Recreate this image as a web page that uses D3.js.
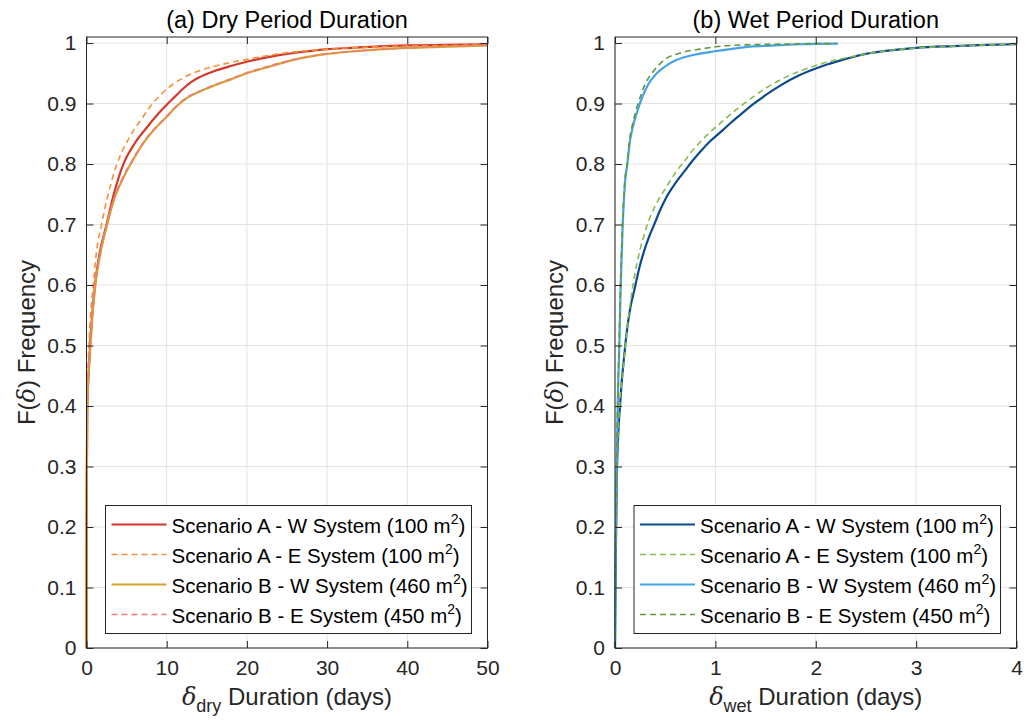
<!DOCTYPE html>
<html>
<head>
<meta charset="utf-8">
<script src="https://cdn.jsdelivr.net/npm/d3@7"></script>
<style>
  body { margin: 0; background: #fff; }
  svg { font-family: "Liberation Sans", Arial, Helvetica, sans-serif; }
  .tick-label { font-size: 21px; fill: #262626; }
  .title { font-size: 23.5px; fill: #000; }
  .axis-label { font-size: 24px; fill: #262626; }
  .legend-text { font-size: 20.5px; fill: #000; }
</style>
</head>
<body>
<div id="chart"></div>
<script>
// cumulative frequency of dry / wet period durations

const dryTicks = [0, 10, 20, 30, 40, 50];
const wetTicks = [0, 1, 2, 3, 4];
const yTicks = [0, 0.1, 0.2, 0.3, 0.4, 0.5, 0.6, 0.7, 0.8, 0.9, 1];

const legendNames = [
    "Scenario A - W System (100 m",
    "Scenario A - E System (100 m",
    "Scenario B - W System (460 m",
    "Scenario B - E System (450 m"
];

// (a) dry period, [days, F]
const dryAW = [[0,0],[0.02,0.2],[0.05,0.3],[0.1,0.4],[0.25,0.45],[0.44,0.5],[0.7,0.55],[1.06,0.6],[1.6,0.65],[2.5,0.7],[3.4,0.75],[4.6,0.8],[6,0.834],[7.5,0.86],[9,0.884],[10,0.898],[11,0.911],[12,0.924],[13,0.935],[14,0.943],[15.8,0.953],[18,0.962],[20,0.969],[22,0.975],[24,0.98],[26,0.984],[28,0.987],[30,0.99],[33,0.992],[36,0.994],[40,0.996],[45,0.997],[50,0.998]];
const dryAE = [[0,0],[0.02,0.25],[0.05,0.35],[0.1,0.42],[0.3,0.5],[0.5,0.55],[0.85,0.6],[1.2,0.65],[1.9,0.702],[2.7,0.75],[3.8,0.8],[5.4,0.845],[7,0.877],[8,0.896],[9.2,0.914],[10.5,0.929],[12,0.942],[13,0.949],[14,0.954],[15.8,0.961],[18,0.968],[20,0.973],[22,0.978],[25,0.984],[28,0.988],[30,0.99],[35,0.993],[40,0.995],[45,0.996],[50,0.997]];
const dryBW = [[0,0],[0.02,0.2],[0.05,0.3],[0.1,0.4],[0.25,0.45],[0.5,0.5],[0.75,0.55],[1.1,0.6],[1.7,0.65],[2.5,0.696],[3.4,0.74],[4.5,0.775],[5.8,0.807],[7,0.833],[8.5,0.858],[10,0.878],[11.2,0.895],[12.5,0.909],[14,0.919],[15.8,0.929],[18,0.94],[20,0.95],[22,0.958],[24.1,0.966],[26,0.973],[28,0.978],[30,0.982],[33,0.986],[36,0.989],[40,0.992],[45,0.994],[50,0.996]];
const dryBE = [[0,0],[0.02,0.22],[0.05,0.32],[0.1,0.41],[0.25,0.46],[0.48,0.5],[0.72,0.55],[1.05,0.6],[1.65,0.65],[2.45,0.698],[3.4,0.742],[4.5,0.777],[5.8,0.808],[7,0.834],[8.5,0.859],[10,0.879],[11.2,0.896],[12.5,0.91],[14,0.92],[15.8,0.93],[18,0.941],[20,0.951],[22,0.959],[24.1,0.967],[26,0.973],[28,0.978],[30,0.982],[33,0.986],[36,0.989],[40,0.992],[45,0.995],[50,0.996]];

// (b) wet period, [days, F]
const wetAW = [[0,0],[0.005,0.1],[0.01,0.18],[0.017,0.27],[0.033,0.355],[0.05,0.4],[0.066,0.438],[0.09,0.48],[0.116,0.521],[0.15,0.56],[0.2,0.597],[0.24,0.627],[0.282,0.652],[0.34,0.68],[0.398,0.703],[0.45,0.724],[0.515,0.746],[0.6,0.768],[0.7,0.79],[0.77,0.805],[0.847,0.82],[0.95,0.838],[1.08,0.857],[1.16,0.869],[1.245,0.881],[1.33,0.893],[1.41,0.903],[1.51,0.915],[1.65,0.93],[1.84,0.947],[2,0.958],[2.12,0.965],[2.24,0.971],[2.37,0.977],[2.5,0.982],[2.7,0.987],[3,0.992],[3.37,0.995],[3.7,0.997],[4,0.998]];
const wetAE = [[0,0],[0.005,0.12],[0.01,0.2],[0.02,0.3],[0.035,0.37],[0.05,0.41],[0.075,0.45],[0.1,0.493],[0.13,0.54],[0.166,0.586],[0.2,0.62],[0.249,0.658],[0.3,0.688],[0.349,0.712],[0.43,0.74],[0.515,0.763],[0.6,0.785],[0.697,0.806],[0.76,0.82],[0.847,0.836],[0.95,0.853],[1.08,0.872],[1.2,0.889],[1.31,0.903],[1.5,0.925],[1.68,0.942],[1.85,0.954],[2,0.963],[2.15,0.97],[2.34,0.977],[2.5,0.982],[2.7,0.987],[3,0.992],[3.4,0.995],[3.7,0.997],[4,0.998]];
const wetBW = [[0,0],[0.005,0.15],[0.01,0.2],[0.017,0.3],[0.027,0.4],[0.043,0.5],[0.057,0.6],[0.077,0.7],[0.1,0.77],[0.123,0.8],[0.149,0.838],[0.18,0.863],[0.216,0.884],[0.27,0.91],[0.332,0.932],[0.4,0.947],[0.515,0.963],[0.6,0.971],[0.68,0.976],[0.8,0.981],[0.98,0.986],[1.15,0.99],[1.345,0.994],[1.6,0.996],[1.84,0.998],[2.22,0.999]];
const wetBE = [[0,0],[0.005,0.16],[0.01,0.22],[0.017,0.31],[0.027,0.41],[0.042,0.51],[0.056,0.61],[0.075,0.7],[0.097,0.77],[0.12,0.8],[0.145,0.84],[0.178,0.868],[0.21,0.889],[0.26,0.915],[0.3,0.932],[0.38,0.953],[0.45,0.966],[0.515,0.975],[0.6,0.981],[0.68,0.985],[0.85,0.99],[1.01,0.994],[1.3,0.997],[1.6,0.998],[2,0.999],[2.2,0.999]];

const width = 1028, height = 720;
const plotTop = 37, plotBottom = 648;
const tickLen = 7;

const panels = [
    {
        left: 86.5, right: 487.5, xMax: 50, xTicks: dryTicks,
        title: "(a) Dry Period Duration", sub: "dry",
        series: [
            { data: dryAW, color: "#d0392b", dash: null, w: 2.2 },
            { data: dryAE, color: "#f39237", dash: "6,4", w: 1.6 },
            { data: dryBW, color: "#d6a02e", dash: null, w: 2.2 },
            { data: dryBE, color: "#ef7b7b", dash: "6,4", w: 1.6 }
        ],
        legend: { x: 105.5, y: 505.5, w: 366, h: 128 }
    },
    {
        left: 615, right: 1016.5, xMax: 4, xTicks: wetTicks,
        title: "(b) Wet Period Duration", sub: "wet",
        series: [
            { data: wetAW, color: "#0b4a8f", dash: null, w: 2.2 },
            { data: wetAE, color: "#86bc4d", dash: "6,4", w: 1.6 },
            { data: wetBW, color: "#44a3e4", dash: null, w: 2.2 },
            { data: wetBE, color: "#64993a", dash: "6,4", w: 1.6 }
        ],
        legend: { x: 634, y: 505.5, w: 366.5, h: 128 }
    }
];

const svg = d3.select("#chart").append("svg")
    .attr("width", width)
    .attr("height", height);

panels.forEach(p => {
    const x = d3.scaleLinear().domain([0, p.xMax]).range([p.left, p.right]);
    const y = d3.scaleLinear().domain([0, 1.01]).range([plotBottom, plotTop]);
    const g = svg.append("g");

    // grid
    g.selectAll(".gx").data(p.xTicks).enter().append("line")
        .attr("x1", d => x(d)).attr("x2", d => x(d))
        .attr("y1", plotTop).attr("y2", plotBottom)
        .attr("stroke", "#e3e3e3").attr("stroke-width", 1);
    g.selectAll(".gy").data(yTicks).enter().append("line")
        .attr("x1", p.left).attr("x2", p.right)
        .attr("y1", d => y(d)).attr("y2", d => y(d))
        .attr("stroke", "#e3e3e3").attr("stroke-width", 1);

    // curves
    const line = d3.line().x(d => x(d[0])).y(d => y(d[1])).curve(d3.curveMonotoneX);
    p.series.forEach(s => {
        g.append("path")
            .attr("d", line(s.data))
            .attr("fill", "none")
            .attr("stroke", s.color)
            .attr("stroke-width", s.w)
            .attr("stroke-dasharray", s.dash);
    });

    // box + ticks on all four sides
    g.append("rect")
        .attr("x", p.left).attr("y", plotTop)
        .attr("width", p.right - p.left).attr("height", plotBottom - plotTop)
        .attr("fill", "none").attr("stroke", "#262626").attr("stroke-width", 1);

    const xAxisB = d3.axisBottom(x).tickValues(p.xTicks).tickSize(-tickLen).tickFormat(d3.format("d")).tickPadding(12);
    const gxb = g.append("g").attr("transform", `translate(0,${plotBottom})`).call(xAxisB);
    const xAxisT = d3.axisTop(x).tickValues(p.xTicks).tickSize(-tickLen).tickFormat("");
    const gxt = g.append("g").attr("transform", `translate(0,${plotTop})`).call(xAxisT);
    const yAxisL = d3.axisLeft(y).tickValues(yTicks).tickSize(-tickLen).tickFormat(d => d3.format("~g")(d)).tickPadding(10);
    const gyl = g.append("g").attr("transform", `translate(${p.left},0)`).call(yAxisL);
    const yAxisR = d3.axisRight(y).tickValues(yTicks).tickSize(-tickLen).tickFormat("");
    const gyr = g.append("g").attr("transform", `translate(${p.right},0)`).call(yAxisR);

    [gxb, gxt, gyl, gyr].forEach(a => {
        a.select(".domain").remove();
        a.selectAll(".tick line").attr("stroke", "#262626");
        a.selectAll(".tick text").attr("class", "tick-label").attr("font-family", null).attr("font-size", null).attr("fill", null);
    });

    // title
    svg.append("text")
        .attr("class", "title")
        .attr("x", (p.left + p.right) / 2)
        .attr("y", 28)
        .attr("text-anchor", "middle")
        .text(p.title);

    // x label
    const xl = svg.append("text")
        .attr("class", "axis-label")
        .attr("x", (p.left + p.right) / 2)
        .attr("y", 705)
        .attr("text-anchor", "middle");
    xl.append("tspan").attr("font-style", "italic").attr("font-family", "'DejaVu Serif', serif").text("δ");
    xl.append("tspan").attr("font-size", "18px").attr("dy", 7).text(p.sub);
    xl.append("tspan").attr("dy", -7).text(" Duration (days)");

    // y label
    const yl = svg.append("text")
        .attr("class", "axis-label")
        .attr("transform", `translate(${p.left - 52},${(plotTop + plotBottom) / 2}) rotate(-90)`)
        .attr("text-anchor", "middle");
    yl.append("tspan").text("F(");
    yl.append("tspan").attr("font-style", "italic").attr("font-family", "'DejaVu Serif', serif").text("δ");
    yl.append("tspan").text(") Frequency");

    // legend
    const lg = svg.append("g");
    lg.append("rect")
        .attr("x", p.legend.x).attr("y", p.legend.y)
        .attr("width", p.legend.w).attr("height", p.legend.h)
        .attr("fill", "#fff").attr("stroke", "#262626").attr("stroke-width", 1);
    p.series.forEach((s, i) => {
        const ry = p.legend.y + 19 + i * 30;
        lg.append("line")
            .attr("x1", p.legend.x + 6).attr("x2", p.legend.x + 61)
            .attr("y1", ry).attr("y2", ry)
            .attr("stroke", s.color).attr("stroke-width", s.w)
            .attr("stroke-dasharray", s.dash);
        const t = lg.append("text")
            .attr("class", "legend-text")
            .attr("x", p.legend.x + 66).attr("y", ry + 8);
        t.append("tspan").text(legendNames[i]);
        t.append("tspan").attr("font-size", "14px").attr("dy", -9).text("2");
        t.append("tspan").attr("dy", 9).text(")");
    });
});
</script>
</body>
</html>
